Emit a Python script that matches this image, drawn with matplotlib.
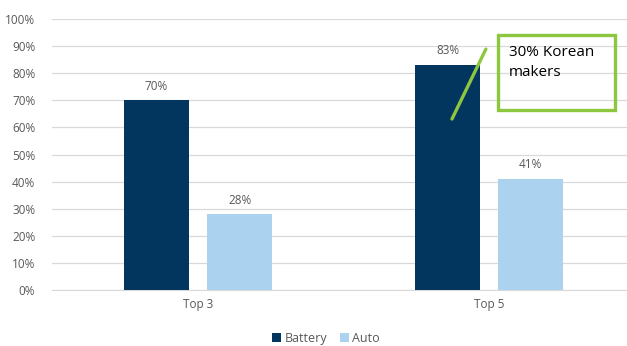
import matplotlib
matplotlib.use("Agg")
import matplotlib.pyplot as plt
import numpy as np

categories = ["Top 3", "Top 5"]
battery = [0.70, 0.83]
auto = [0.28, 0.41]
yticks = [0, 0.1, 0.2, 0.3, 0.4, 0.5, 0.6, 0.7, 0.8, 0.9, 1.0]

NAVY = "#02365e"
SKY = "#abd3f0"
GREEN = "#8dc63f"
GREY_TXT = "#595959"

plt.rcParams["font.family"] = ["Open Sans", "DejaVu Sans"]

fig = plt.figure(figsize=(6.27, 3.46), dpi=100)
ax = fig.add_axes([52 / 627, 56 / 346, 575 / 627, 271 / 346])

x = np.arange(len(categories))
w = 0.223
off = 0.1426
b1 = ax.bar(x - off, battery, w, color=NAVY, label="Battery", zorder=3)
b2 = ax.bar(x + off, auto, w, color=SKY, label="Auto", zorder=3)

for bars, vals in ((b1, battery), (b2, auto)):
    for rect, v in zip(bars, vals):
        ax.text(rect.get_x() + rect.get_width() / 2, v + 0.028, f"{v:.0%}",
                ha="center", va="bottom", fontsize=8.5, color=GREY_TXT)

ax.set_xlim(-0.502, -0.502 + 575 / 291)
ax.set_ylim(0, 1)
ax.set_yticks(yticks)
ax.set_yticklabels([f"{t:.0%}" for t in yticks])
ax.set_xticks(x)
ax.set_xticklabels(categories)
ax.tick_params(axis="both", length=0, labelsize=8.5, labelcolor=GREY_TXT)
ax.tick_params(axis="y", pad=12)
ax.tick_params(axis="x", pad=6)
ax.grid(axis="y", color="#d9d9d9", linewidth=0.9, zorder=0)
for s in ("top", "right", "left"):
    ax.spines[s].set_visible(False)
ax.spines["bottom"].set_color("#d9d9d9")

# callout for the Top 5 battery share
ax.annotate("", xy=(0.8725, 0.631), xytext=(0.989, 0.889),
            arrowprops=dict(arrowstyle="-", color=GREEN, lw=2.4,
                            shrinkA=0, shrinkB=0), zorder=4)
fig.text(509 / 627, 1 - 45 / 346, "30% Korean\nmakers", ha="left", va="top",
         fontsize=11, color="black", linespacing=1.45)
fig.patches.append(plt.Rectangle((498 / 627, 1 - 110 / 346), 117 / 627, 75 / 346,
                                 transform=fig.transFigure, fill=False,
                                 edgecolor=GREEN, linewidth=2.4))

fig.legend(handles=[b1, b2], loc="upper center", bbox_to_anchor=(0.52, 1 - 323 / 346),
           ncol=2, frameon=False, fontsize=9, handlelength=0.7, handleheight=0.7,
           handletextpad=0.3, columnspacing=1.0, labelcolor=GREY_TXT,
           borderpad=0.2)

fig.savefig("out.png", dpi=100)
